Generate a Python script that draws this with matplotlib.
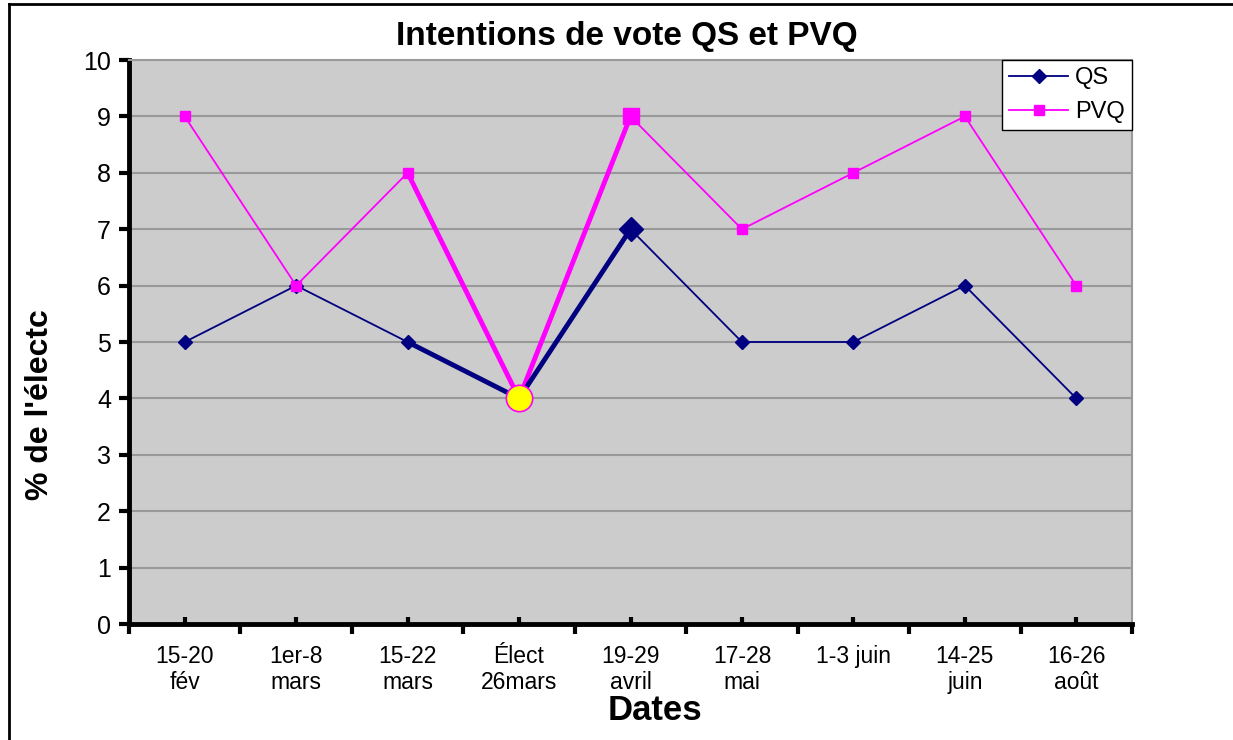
import numpy as np
import matplotlib
matplotlib.use("Agg")
import matplotlib.pyplot as plt
from matplotlib.lines import Line2D

plt.rcParams['font.family'] = ['Liberation Sans', 'DejaVu Sans']

# ---------data---------
dates = ["15-20\nfév", "1er-8\nmars", "15-22\nmars", "Élect\n26mars", "19-29\navril",
         "17-28\nmai", "1-3 juin\n", "14-25\njuin", "16-26\naoût"]
qs = [5, 6, 5, 4, 7, 5, 5, 6, 4]
pvq = [9, 6, 8, 4, 9, 7, 8, 9, 6]
elect = 3            # index of the election point
hl = slice(2, 5)     # highlighted segment around the election

x = np.arange(len(dates))
qs = np.array(qs)
pvq = np.array(pvq)

# ---------figure---------
fig = plt.figure(figsize=(12.33, 7.40), dpi=100)
ax = fig.add_axes([129/1233, 1-624/740, (1132-129)/1233, (624-60)/740])
ax.set_facecolor('#cccccc')

navy = '#000080'
mag = '#ff00ff'

ax.plot(x, qs, color=navy, lw=1.3, marker='D', ms=7, label='QS', zorder=3)
ax.plot(x, pvq, color=mag, lw=1.3, marker='s', ms=7, label='PVQ', zorder=3)

# thicker segment around the election
ax.plot(x[hl], pvq[hl], color=mag, lw=3.5, zorder=4, solid_capstyle='round')
ax.plot(x[hl], qs[hl], color=navy, lw=3.5, zorder=4, solid_capstyle='round')
ax.plot(x[hl][-1], qs[hl][-1], color=navy, marker='D', ms=12, zorder=5)
ax.plot(x[hl][-1], pvq[hl][-1], color=mag, marker='s', ms=12, zorder=5)
ax.plot(x[elect], pvq[elect], marker='o', ms=19, mfc='yellow', mec=mag, mew=1.2, zorder=6)

# ---------axes---------
ax.set_xlim(-0.5, len(dates) - 0.5)
ax.set_ylim(0, 10)
ax.set_yticks(range(0, 11))
ax.yaxis.grid(True, color='#999999', lw=1.5)
ax.set_axisbelow(True)

ax.set_xticks(np.arange(len(dates) + 1) - 0.5)
ax.set_xticklabels([])
ax.set_xticks(x, minor=True)
ax.set_xticklabels(dates, minor=True, fontsize=16.5, linespacing=1.15)
ax.tick_params(axis='x', which='major', direction='out', length=7, width=3)
ax.tick_params(axis='x', which='minor', direction='in', length=5, width=3, pad=15)
ax.tick_params(axis='y', direction='out', length=7, width=3, labelsize=18, pad=6)

for s in ['left', 'bottom']:
    ax.spines[s].set_linewidth(3.5)
    ax.spines[s].set_color('black')
ax.spines['right'].set_color('#999999')
ax.spines['right'].set_linewidth(1.5)
ax.spines['top'].set_color('#999999')
ax.spines['top'].set_linewidth(1.5)

leg = ax.legend(loc='upper right', bbox_to_anchor=(1.0, 1.0), borderaxespad=0,
                fontsize=17, frameon=True, fancybox=False, handlelength=2.5,
                borderpad=0.3, labelspacing=0.5, handletextpad=0.3)
leg.get_frame().set_edgecolor('black')
leg.get_frame().set_linewidth(1)
leg.get_frame().set_facecolor('white')
leg.get_frame().set_alpha(1)

# ---------texts---------
fig.text(627/1233, 1-37/740, "Intentions de vote QS et PVQ", ha='center', va='center',
         fontsize=24, fontweight='bold')
fig.text(655/1233, 1-711/740, "Dates", ha='center', va='center', fontsize=25, fontweight='bold')
fig.text(40/1233, 1-500/740, "% de l'électc", rotation=90, ha='center', va='bottom',
         fontsize=23, fontweight='bold')

# border lines (top / left)
fig.add_artist(Line2D([9/1233, 1], [1-4/740, 1-4/740], color='black', lw=2, transform=fig.transFigure))
fig.add_artist(Line2D([9/1233, 9/1233], [0, 1-4/740], color='black', lw=2, transform=fig.transFigure))

fig.savefig("out.png", dpi=100)
